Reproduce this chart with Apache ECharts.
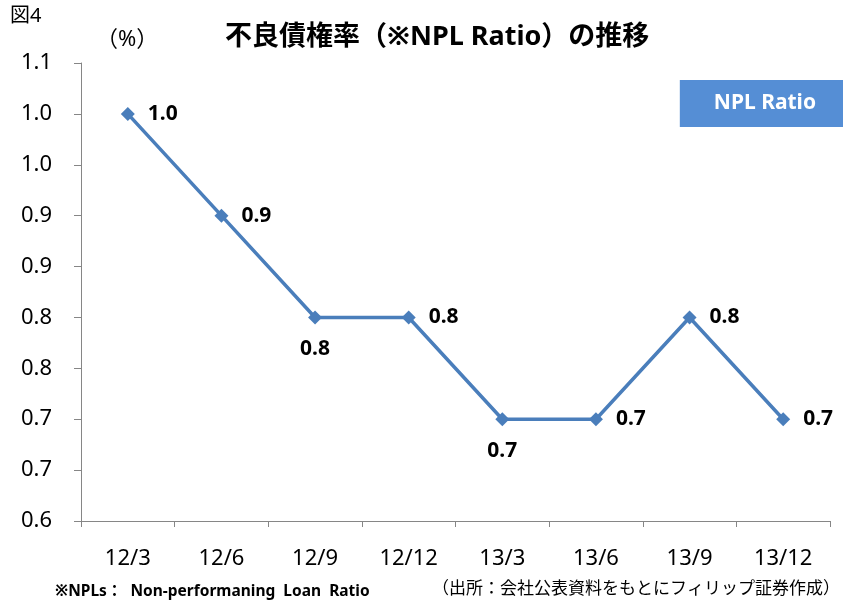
<!DOCTYPE html>
<html>
<head>
<meta charset="utf-8">
<script src="https://cdn.jsdelivr.net/npm/echarts@6/dist/echarts.min.js"></script>
<style>
  html, body { margin: 0; padding: 0; background: #fff; }
  #chart { width: 843px; height: 608px; }
</style>
</head>
<body>
<div id="chart"></div>
<script>
// 四半期
const periods = ['12/3', '12/6', '12/9', '12/12', '13/3', '13/6', '13/9', '13/12']
// 不良債権率 (%)
const nplRatio = [1.00, 0.90, 0.80, 0.80, 0.70, 0.70, 0.80, 0.70]
// ラベル位置（下に出す点）
const labelBelow = [false, false, true, false, true, false, false, false]
// 縦軸目盛り
const yTickLabels = ['0.6', '0.7', '0.7', '0.8', '0.8', '0.9', '0.9', '1.0', '1.0', '1.1']

const font = '"Noto Sans", "Noto Sans CJK JP", sans-serif'
const blue = '#4a7ebb'

const chart = echarts.init(document.getElementById('chart'))

const seriesData = nplRatio.map((v, i) => ({
  value: v,
  label: labelBelow[i] ? { position: 'bottom', distance: 14 } : { position: 'right', distance: 13 }
}))

const option = {
  backgroundColor: '#ffffff',
  animation: false,
  textStyle: { fontFamily: font },
  grid: { left: 81, right: 13, top: 63, bottom: 87 },
  legend: {
    right: 0,
    top: 80,
    icon: 'none',
    itemWidth: 0,
    itemGap: 0,
    backgroundColor: '#558ed5',
    padding: [13, 27, 13, 29],
    textStyle: { color: '#fff', fontWeight: 'bold', fontSize: 21, fontFamily: font },
    data: ['NPL Ratio']
  },
  xAxis: {
    type: 'category',
    data: periods,
    boundaryGap: true,
    axisLine: { lineStyle: { color: '#868686', width: 1 } },
    axisTick: { show: true, length: 6, lineStyle: { color: '#868686' } },
    axisLabel: { color: '#000', fontSize: 22, margin: 27, fontFamily: font }
  },
  yAxis: {
    type: 'value',
    min: 0.6,
    max: 1.05,
    interval: 0.05,
    splitLine: { show: false },
    axisLine: { show: true, lineStyle: { color: '#868686', width: 1 } },
    axisTick: { show: true, length: 7, lineStyle: { color: '#868686' } },
    axisLabel: {
      color: '#000',
      fontSize: 22,
      margin: 29,
      fontFamily: font,
      formatter: (v, i) => yTickLabels[i]
    }
  },
  series: [{
    name: 'NPL Ratio',
    type: 'line',
    data: seriesData,
    symbol: 'diamond',
    symbolSize: 14,
    lineStyle: { color: blue, width: 3.5 },
    itemStyle: { color: blue },
    label: {
      show: true,
      color: '#000',
      fontWeight: 'bold',
      fontSize: 21,
      fontFamily: font,
      formatter: p => p.value.toFixed(1)
    }
  }],
  graphic: [
    { type: 'text', left: 10, top: 6, style: { text: '図4', font: '20px ' + font, fill: '#000' } },
    { type: 'text', left: 96, top: 29, style: { text: '（%）', font: '22px ' + font, fill: '#000' } },
    { type: 'text', left: 225, top: 24, style: { text: '不良債権率（※NPL Ratio）の推移', font: 'bold 27px ' + font, fill: '#000' } },
    { type: 'text', left: 55, top: 584, style: { text: '※NPLs：  Non-performaning  Loan  Ratio', font: 'bold 15.5px ' + font, fill: '#000' } },
    { type: 'text', right: 3, top: 581, style: { text: '（出所：会社公表資料をもとにフィリップ証券作成）', font: '17px ' + font, fill: '#000' } }
  ]
}

chart.setOption(option)
</script>
</body>
</html>
